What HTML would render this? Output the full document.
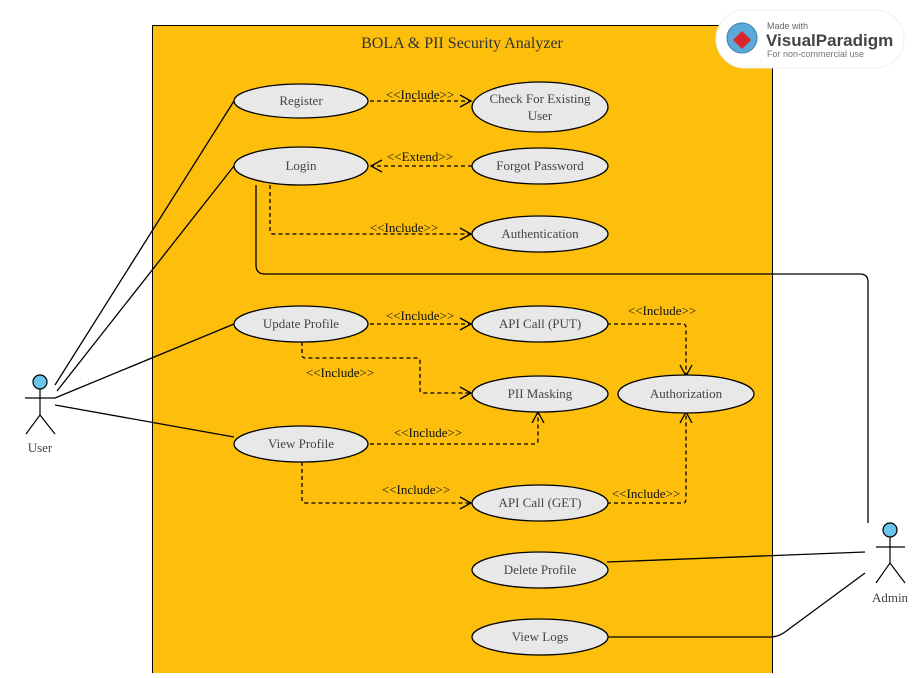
<!DOCTYPE html>
<html><head><meta charset="utf-8"><style>
body{margin:0;background:#fff;}
svg text{font-family:"Liberation Serif",serif;}
</style></head><body>
<svg width="912" height="673" viewBox="0 0 912 673" xmlns="http://www.w3.org/2000/svg">
<defs>
<marker id="a" markerWidth="14" markerHeight="14" refX="12" refY="7" orient="auto" markerUnits="userSpaceOnUse">
<path d="M1,1 L12,7 L1,13" fill="none" stroke="#000" stroke-width="1.3"/></marker>
</defs>
<rect x="152.5" y="25.5" width="620" height="660" fill="#FDBF0C" stroke="#000" stroke-width="1"/>
<text x="462" y="48" font-size="16" text-anchor="middle" fill="#333">BOLA &amp; PII Security Analyzer</text>

<g fill="none" stroke="#000" stroke-width="1.3">
<line x1="55" y1="385" x2="234" y2="101"/>
<line x1="57" y1="391" x2="234" y2="166"/>
<line x1="55" y1="398" x2="234" y2="324"/>
<line x1="55" y1="405" x2="234" y2="437"/>
<path d="M256,185 L256,265 Q256,274 265,274 L860,274 Q868,274 868,282 L868,523"/>
<line x1="865" y1="552" x2="607" y2="562"/>
<path d="M865,573 L785,632 Q778,637 770,637 L607,637"/>
</g>

<g fill="none" stroke="#000" stroke-width="1.3" stroke-dasharray="4,3">
<line x1="370" y1="101" x2="471" y2="101" marker-end="url(#a)"/>
<line x1="472" y1="166" x2="371" y2="166" marker-end="url(#a)"/>
<path d="M270,185 L270,231 Q270,234 274,234 L471,234" marker-end="url(#a)"/>
<line x1="370" y1="324" x2="471" y2="324" marker-end="url(#a)"/>
<path d="M302,342 L302,355 Q302,358 306,358 L417,358 Q420,358 420,362 L420,390 Q420,393 424,393 L471,393" marker-end="url(#a)"/>
<path d="M370,444 L535,444 Q538,444 538,440 L538,412" marker-end="url(#a)"/>
<path d="M302,462 L302,500 Q302,503 306,503 L471,503" marker-end="url(#a)"/>
<path d="M607,324 L683,324 Q686,324 686,328 L686,376" marker-end="url(#a)"/>
<path d="M607,503 L683,503 Q686,503 686,499 L686,412" marker-end="url(#a)"/>
</g>

<g fill="#E8E8E8" stroke="#000" stroke-width="1.3">
<ellipse cx="301" cy="101" rx="67" ry="17"/>
<ellipse cx="540" cy="107" rx="68" ry="25"/>
<ellipse cx="301" cy="166" rx="67" ry="19"/>
<ellipse cx="540" cy="166" rx="68" ry="18"/>
<ellipse cx="540" cy="234" rx="68" ry="18"/>
<ellipse cx="301" cy="324" rx="67" ry="18"/>
<ellipse cx="540" cy="324" rx="68" ry="18"/>
<ellipse cx="540" cy="394" rx="68" ry="18"/>
<ellipse cx="686" cy="394" rx="68" ry="19"/>
<ellipse cx="301" cy="444" rx="67" ry="18"/>
<ellipse cx="540" cy="503" rx="68" ry="18"/>
<ellipse cx="540" cy="570" rx="68" ry="18"/>
<ellipse cx="540" cy="637" rx="68" ry="18"/>
</g>

<g font-size="13" fill="#444" text-anchor="middle">
<text x="301" y="105">Register</text>
<text x="540" y="103">Check For Existing</text>
<text x="540" y="120">User</text>
<text x="301" y="170">Login</text>
<text x="540" y="170">Forgot Password</text>
<text x="540" y="238">Authentication</text>
<text x="301" y="328">Update Profile</text>
<text x="540" y="328">API Call (PUT)</text>
<text x="540" y="398">PII Masking</text>
<text x="686" y="398">Authorization</text>
<text x="301" y="448">View Profile</text>
<text x="540" y="507">API Call (GET)</text>
<text x="540" y="574">Delete Profile</text>
<text x="540" y="641">View Logs</text>
<text x="40" y="452">User</text>
<text x="890" y="602">Admin</text>
</g>

<g font-size="13" fill="#111" text-anchor="middle">
<text x="420" y="99">&lt;&lt;Include&gt;&gt;</text>
<text x="420" y="161">&lt;&lt;Extend&gt;&gt;</text>
<text x="404" y="232">&lt;&lt;Include&gt;&gt;</text>
<text x="420" y="320">&lt;&lt;Include&gt;&gt;</text>
<text x="340" y="377">&lt;&lt;Include&gt;&gt;</text>
<text x="428" y="437">&lt;&lt;Include&gt;&gt;</text>
<text x="416" y="494">&lt;&lt;Include&gt;&gt;</text>
<text x="662" y="315">&lt;&lt;Include&gt;&gt;</text>
<text x="646" y="498">&lt;&lt;Include&gt;&gt;</text>
</g>

<g stroke="#000" stroke-width="1.2" fill="none">
<circle cx="40" cy="382" r="7" fill="#6CC5EE"/>
<line x1="40" y1="389" x2="40" y2="415"/>
<line x1="25" y1="398" x2="55" y2="398"/>
<path d="M26,434 L40,415 L55,434"/>
<circle cx="890" cy="530" r="7" fill="#6CC5EE"/>
<line x1="890" y1="537" x2="890" y2="563"/>
<line x1="876" y1="547" x2="905" y2="547"/>
<path d="M876,583 L890,563 L905,583"/>
</g>

<g>
<rect x="716" y="10" width="188" height="58" rx="29" fill="#fff" stroke="#eee"/>
<circle cx="742" cy="38" r="15" fill="#5BA9D8" stroke="#3A7FB0"/>
<path d="M733,40 L742,31 L751,40 L742,49 Z" fill="#D9262B"/>
<text x="767" y="29" font-size="9" fill="#666" style="font-family:'Liberation Sans',sans-serif">Made with</text>
<text x="766" y="46" font-size="17" font-weight="bold" fill="#444" style="font-family:'Liberation Sans',sans-serif">VisualParadigm</text>
<text x="767" y="57" font-size="9" fill="#777" style="font-family:'Liberation Sans',sans-serif">For non-commercial use</text>
</g>
</svg>
</body></html>
